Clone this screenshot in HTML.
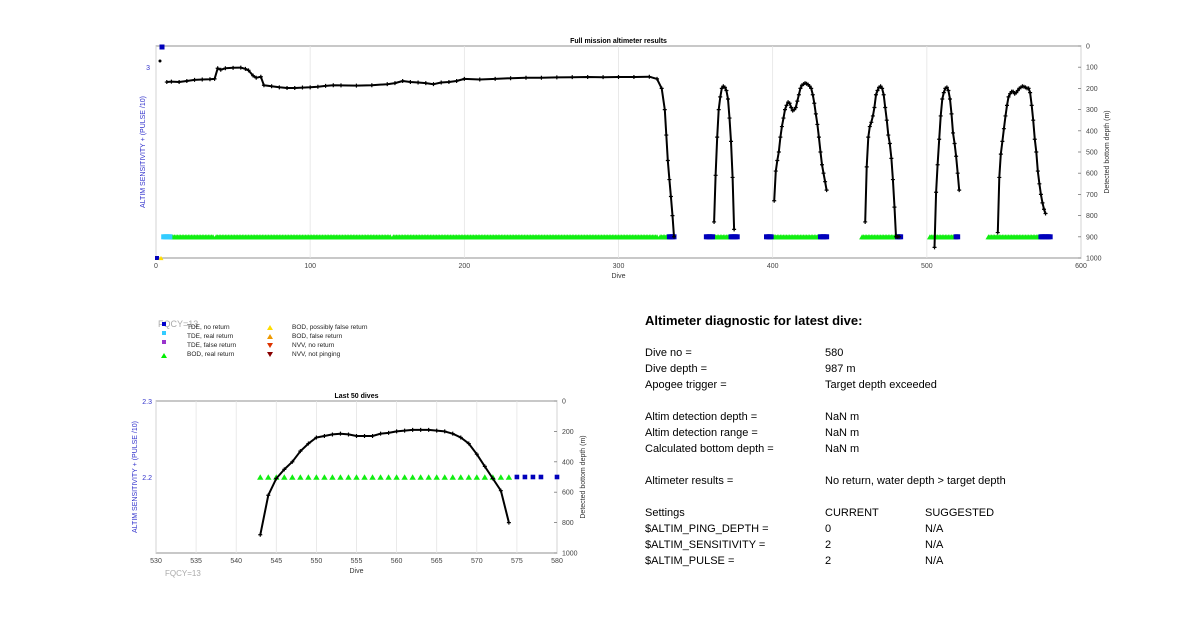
<!DOCTYPE html>
<html><head><meta charset="utf-8"><style>
body{margin:0;background:#fff;width:1200px;height:622px;overflow:hidden;font-family:"Liberation Sans",Arial,sans-serif}
svg text{font-family:"Liberation Sans",Arial,sans-serif}
</style></head><body>
<svg id="chart" width="1200" height="622" xmlns="http://www.w3.org/2000/svg">
<g id="top"></g>
<g id="bot"></g>
<g font-size="6.5" fill="#222">
<text x="158" y="327" font-size="9" fill="#aaa">FQCY=13</text>
<rect x="162" y="322" width="4" height="4" fill="#00c"/><text x="187" y="329">TDE, no return</text>
<rect x="162" y="331" width="4" height="4" fill="#3cf"/><text x="187" y="338">TDE, real return</text>
<rect x="162" y="340" width="4" height="4" fill="#93c"/><text x="187" y="347">TDE, false return</text>
<polygon points="161,358 164,353 167,358" fill="#0e0"/><text x="187" y="356">BOD, real return</text>
<polygon points="267,330 270,325 273,330" fill="#fd0"/><text x="292" y="329">BOD, possibly false return</text>
<polygon points="267,339 270,334 273,339" fill="#e90"/><text x="292" y="338">BOD, false return</text>
<polygon points="267,343 273,343 270,348" fill="#d30"/><text x="292" y="347">NVV, no return</text>
<polygon points="267,352 273,352 270,357" fill="#800"/><text x="292" y="356">NVV, not pinging</text>
</g>
<g font-size="11" fill="#000">
<text x="645" y="325" font-size="13" font-weight="bold">Altimeter diagnostic for latest dive:</text>
<text x="645" y="356">Dive no =</text><text x="825" y="356">580</text>
<text x="645" y="372">Dive depth =</text><text x="825" y="372">987 m</text>
<text x="645" y="388">Apogee trigger =</text><text x="825" y="388">Target depth exceeded</text>
<text x="645" y="420">Altim detection depth =</text><text x="825" y="420">NaN m</text>
<text x="645" y="436">Altim detection range =</text><text x="825" y="436">NaN m</text>
<text x="645" y="452">Calculated bottom depth =</text><text x="825" y="452">NaN m</text>
<text x="645" y="484">Altimeter results =</text><text x="825" y="484">No return, water depth &gt; target depth</text>
<text x="645" y="516">Settings</text><text x="825" y="516">CURRENT</text><text x="925" y="516">SUGGESTED</text>
<text x="645" y="532">$ALTIM_PING_DEPTH =</text><text x="825" y="532">0</text><text x="925" y="532">N/A</text>
<text x="645" y="548">$ALTIM_SENSITIVITY =</text><text x="825" y="548">2</text><text x="925" y="548">N/A</text>
<text x="645" y="564">$ALTIM_PULSE =</text><text x="825" y="564">2</text><text x="925" y="564">N/A</text>
</g>
</svg>
<script>
// ---- Full mission data ----
const seg1Dives=[7,10,15,20,25,30,35,38,40,42,45,50,55,58,60,63,65,68,70,75,80,85,90,95,100,105,110,115,120,130,140,150,155,160,165,170,175,180,185,190,195,200,210,220,230,240,250,260,270,280,290,300,310,320,325,328,330,331,332,333,334,335,336];
const seg1Depth=[170,168,170,165,160,158,157,155,105,112,105,103,102,108,115,140,150,145,185,190,195,198,198,196,195,192,188,185,186,187,185,180,175,165,170,172,175,180,172,170,165,155,158,155,152,150,150,148,147,146,147,146,146,145,155,200,300,420,540,630,710,800,900];
const seg2Dives=[362,363,364,365,366,367,368,369,370,371,372,373,374,375];
const seg2Depth=[830,610,430,300,240,200,190,195,210,250,340,450,620,865];
const seg3Dives=[401,402,403,404,405,406,407,408,409,410,411,412,413,414,415,416,417,418,419,420,421,422,423,424,425,426,427,428,429,430,431,432,433,434,435];
const seg3Depth=[730,590,540,500,430,380,340,300,280,265,270,290,305,300,290,260,230,200,185,180,175,178,182,190,200,230,270,320,370,430,500,560,600,640,680];
const seg4Dives=[460,461,462,463,464,465,466,467,468,469,470,471,472,473,474,475,476,477,478,479,480,481,482];
const seg4Depth=[830,570,430,380,360,330,290,230,210,195,190,200,230,290,350,420,460,530,630,760,900,900,900];
const seg5Dives=[505,506,507,508,509,510,511,512,513,514,515,516,517,518,519,520,521];
const seg5Depth=[950,690,560,440,330,250,220,200,195,210,250,320,410,460,520,600,680];
const seg6Dives=[546,547,548,549,550,551,552,553,554,555,556,557,558,559,560,561,562,563,564,565,566,567,568,569,570,571,572,573,574,575,576,577];
const seg6Depth=[880,620,510,450,390,330,280,240,225,215,215,225,220,210,200,195,190,192,195,200,200,220,280,350,440,500,590,650,700,740,770,790];
const greenRanges=[[10,37],[39,152],[154,325],[327,332],[362,372],[400,430],[458,480],[502,518],[540,573]];
const blueRanges=[[333,336],[357,361],[373,377],[396,399],[431,435],[481,483],[519,520],[574,580]];
const cyanRanges=[[5,9]];
const topXTicks=[0,100,200,300,400,500,600];
const topDepthTicks=[0,100,200,300,400,500,600,700,800,900,1000];
// ---- Last 50 dives ----
const lastDives=[543,544,545,546,547,548,549,550,551,552,553,554,555,556,557,558,559,560,561,562,563,564,565,566,567,568,569,570,571,572,573,574];
const lastDepth=[880,620,510,450,400,330,280,240,230,220,215,220,230,230,230,215,210,200,195,190,190,190,195,200,215,240,280,350,430,510,590,800];
const lastGreen=[543,544,545,546,547,548,549,550,551,552,553,554,555,556,557,558,559,560,561,562,563,564,565,566,567,568,569,570,571,572,573,574];
const lastBlue=[575,576,577,578,580];
const botXTicks=[530,535,540,545,550,555,560,565,570,575,580];
const botDepthTicks=[0,200,400,600,800,1000];

const NS="http://www.w3.org/2000/svg";
function mk(p,t,a){const e=document.createElementNS(NS,t);for(const k in a)e.setAttribute(k,a[k]);p.appendChild(e);return e;}
function txt(p,x,y,s,a){const e=mk(p,'text',Object.assign({x:x,y:y},a||{}));e.textContent=s;return e;}

function chart(g,L,R,T,B,x0,x1,xt,dt,title,ylx){
  const X=d=>L+(d-x0)/(x1-x0)*(R-L), Y=v=>T+v/1000*(B-T);
  mk(g,'rect',{x:L,y:T,width:R-L,height:B-T,fill:'#fff',stroke:'#777','stroke-width':0.8});
  xt.forEach(t=>{
    const l=mk(g,'line',{x1:X(t),x2:X(t),y1:T,y2:B,stroke:'#e4e4e4','stroke-width':0.8});
    
    
    const s=txt(g,X(t),B+10,t,{'font-size':7,'text-anchor':'middle',fill:'#444'});
    
    
  });
  dt.forEach(t=>{
    mk(g,'line',{x1:R-3,x2:R,y1:Y(t),y2:Y(t),stroke:'#777','stroke-width':0.8});
    const s=txt(g,R+5,Y(t)+2.5,t,{'font-size':7,fill:'#444'});
    
    
  });
  const tt=txt(g,(L+R)/2,T-3,title,{'font-size':7,'font-weight':'bold','text-anchor':'middle'});
  
  
  const xl=txt(g,(L+R)/2,B+20,'Dive',{'font-size':7,'text-anchor':'middle',fill:'#333'});
  
  
  const yr=txt(g,0,0,'Detected bottom depth (m)',{'font-size':7,'text-anchor':'middle',fill:'#333',transform:`translate(${R+28},${(T+B)/2}) rotate(-90)`});
  
  
  const ylb=txt(g,0,0,'ALTIM SENSITIVITY + (PULSE /10)',{'font-size':7,'text-anchor':'middle',fill:'#33c',transform:`translate(${ylx},${(T+B)/2}) rotate(-90)`});
  
  
  return {X,Y};
}
function line(g,ax,ds,vs,name){
  const pts=ds.map((d,i)=>ax.X(d).toFixed(1)+','+ax.Y(vs[i]).toFixed(1)).join(' ');
  const p=mk(g,'polyline',{points:pts,fill:'none',stroke:'#000','stroke-width':2,'stroke-linejoin':'round'});
  
  
  let dd='';
  ds.forEach((d,i)=>{const x=ax.X(d),y=ax.Y(vs[i]);dd+=`M${x-2},${y}H${x+2}M${x},${y-2}V${y+2}`;});
  mk(g,'path',{d:dd,stroke:'#000','stroke-width':1.2,fill:'none'});
}
function tri(g,x,y,s,c){return mk(g,'polygon',{points:`${x-s},${y+s*0.85} ${x},${y-s*0.85} ${x+s},${y+s*0.85}`,fill:c});}
function sq(g,x,y,s,c){return mk(g,'rect',{x:x-s,y:y-s,width:2*s,height:2*s,fill:c});}

// Top chart
const tg=document.getElementById('top');
const ta=chart(tg,156,1081,46,258,0,600,topXTicks,topDepthTicks,'Full mission altimeter results',145);
txt(tg,150,70,'3',{'font-size':7,'text-anchor':'end',fill:'#33c'});
const rowY=ta.Y(900);
greenRanges.forEach(r=>{for(let d=r[0];d<=r[1];d++){const e=tri(tg,ta.X(d),rowY,3,'#1e1');}});
blueRanges.forEach(r=>{for(let d=r[0];d<=r[1];d++){const e=sq(tg,ta.X(d),rowY,2.5,'#00b');}});
cyanRanges.forEach(r=>{for(let d=r[0];d<=r[1];d++){const e=sq(tg,ta.X(d),rowY,2.5,'#3cf');}});
sq(tg,162,47,2.5,'#00b');sq(tg,157,258,2,'#00b');tri(tg,161,258,2.5,'#fd0');
mk(tg,'circle',{cx:160,cy:61,r:1.5,fill:'#000'});
[[seg1Dives,seg1Depth],[seg2Dives,seg2Depth],[seg3Dives,seg3Depth],[seg4Dives,seg4Depth],[seg5Dives,seg5Depth],[seg6Dives,seg6Depth]].forEach((s,i)=>line(tg,ta,s[0],s[1],'depth-line-segment-'+(i+1)));

// Bottom chart
const bg=document.getElementById('bot');
const ba=chart(bg,156,557,401,553,530,580,botXTicks,botDepthTicks,'Last 50 dives',137);
txt(bg,152,404,'2.3',{'font-size':7,'text-anchor':'end',fill:'#33c'});
txt(bg,152,480,'2.2',{'font-size':7,'text-anchor':'end',fill:'#33c'});
txt(bg,165,576,'FQCY=13',{'font-size':8,fill:'#aaa'});
const by=477;
lastGreen.forEach(d=>{const e=tri(bg,ba.X(d),by,3.2,'#1e1');});
lastBlue.forEach(d=>{const e=sq(bg,ba.X(d),by,2.3,'#00b');});
line(bg,ba,lastDives,lastDepth,'last-50-depth-line');
</script>
</body></html>
